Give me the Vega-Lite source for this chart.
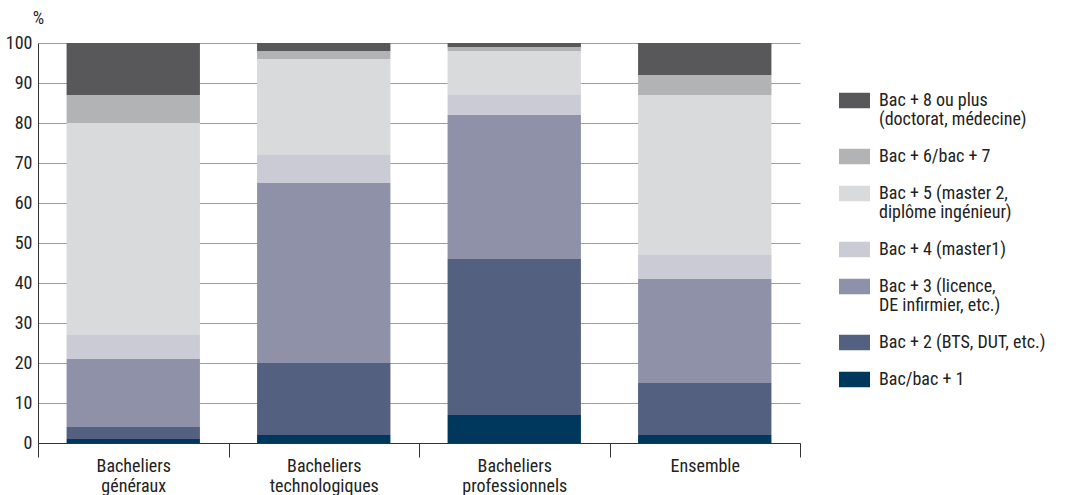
{
  "$schema": "https://vega.github.io/schema/vega-lite/v6.json",
  "width": 762,
  "height": 400,
  "autosize": {"type": "none"},
  "padding": {"left": 38, "top": 43, "right": 266, "bottom": 52},
  "config": {
    "font": "Liberation Sans Narrow, Roboto Condensed, DejaVu Sans Condensed, sans-serif",
    "view": {"stroke": null},
    "axis": {"labelColor": "#222", "labelFontSize": 18, "titleColor": "#222", "titleFontWeight": "normal", "titleFontSize": 18},
    "legend": {"labelColor": "#222", "labelFontSize": 18}
  },
  "data": {
    "values": [
      {"groupe": "Bacheliers généraux", "niveau": "Bac/bac + 1", "ordre": 1, "pct": 1},
      {"groupe": "Bacheliers généraux", "niveau": "Bac + 2 (BTS, DUT, etc.)", "ordre": 2, "pct": 3},
      {"groupe": "Bacheliers généraux", "niveau": "Bac + 3 (licence, DE infirmier, etc.)", "ordre": 3, "pct": 17},
      {"groupe": "Bacheliers généraux", "niveau": "Bac + 4 (master1)", "ordre": 4, "pct": 6},
      {"groupe": "Bacheliers généraux", "niveau": "Bac + 5 (master 2, diplôme ingénieur)", "ordre": 5, "pct": 53},
      {"groupe": "Bacheliers généraux", "niveau": "Bac + 6/bac + 7", "ordre": 6, "pct": 7},
      {"groupe": "Bacheliers généraux", "niveau": "Bac + 8 ou plus (doctorat, médecine)", "ordre": 7, "pct": 13},
      {"groupe": "Bacheliers technologiques", "niveau": "Bac/bac + 1", "ordre": 1, "pct": 2},
      {"groupe": "Bacheliers technologiques", "niveau": "Bac + 2 (BTS, DUT, etc.)", "ordre": 2, "pct": 18},
      {"groupe": "Bacheliers technologiques", "niveau": "Bac + 3 (licence, DE infirmier, etc.)", "ordre": 3, "pct": 45},
      {"groupe": "Bacheliers technologiques", "niveau": "Bac + 4 (master1)", "ordre": 4, "pct": 7},
      {"groupe": "Bacheliers technologiques", "niveau": "Bac + 5 (master 2, diplôme ingénieur)", "ordre": 5, "pct": 24},
      {"groupe": "Bacheliers technologiques", "niveau": "Bac + 6/bac + 7", "ordre": 6, "pct": 2},
      {"groupe": "Bacheliers technologiques", "niveau": "Bac + 8 ou plus (doctorat, médecine)", "ordre": 7, "pct": 2},
      {"groupe": "Bacheliers professionnels", "niveau": "Bac/bac + 1", "ordre": 1, "pct": 7},
      {"groupe": "Bacheliers professionnels", "niveau": "Bac + 2 (BTS, DUT, etc.)", "ordre": 2, "pct": 39},
      {"groupe": "Bacheliers professionnels", "niveau": "Bac + 3 (licence, DE infirmier, etc.)", "ordre": 3, "pct": 36},
      {"groupe": "Bacheliers professionnels", "niveau": "Bac + 4 (master1)", "ordre": 4, "pct": 5},
      {"groupe": "Bacheliers professionnels", "niveau": "Bac + 5 (master 2, diplôme ingénieur)", "ordre": 5, "pct": 11},
      {"groupe": "Bacheliers professionnels", "niveau": "Bac + 6/bac + 7", "ordre": 6, "pct": 1},
      {"groupe": "Bacheliers professionnels", "niveau": "Bac + 8 ou plus (doctorat, médecine)", "ordre": 7, "pct": 1},
      {"groupe": "Ensemble", "niveau": "Bac/bac + 1", "ordre": 1, "pct": 2},
      {"groupe": "Ensemble", "niveau": "Bac + 2 (BTS, DUT, etc.)", "ordre": 2, "pct": 13},
      {"groupe": "Ensemble", "niveau": "Bac + 3 (licence, DE infirmier, etc.)", "ordre": 3, "pct": 26},
      {"groupe": "Ensemble", "niveau": "Bac + 4 (master1)", "ordre": 4, "pct": 6},
      {"groupe": "Ensemble", "niveau": "Bac + 5 (master 2, diplôme ingénieur)", "ordre": 5, "pct": 40},
      {"groupe": "Ensemble", "niveau": "Bac + 6/bac + 7", "ordre": 6, "pct": 5},
      {"groupe": "Ensemble", "niveau": "Bac + 8 ou plus (doctorat, médecine)", "ordre": 7, "pct": 8}
    ]
  },
  "mark": {"type": "bar", "width": {"band": 0.7}},
  "encoding": {
    "x": {
      "field": "groupe", "type": "nominal",
      "sort": ["Bacheliers généraux", "Bacheliers technologiques", "Bacheliers professionnels", "Ensemble"],
      "scale": {"paddingInner": 0, "paddingOuter": 0},
      "axis": {
        "title": null, "labelAngle": 0, "tickBand": "extent",
        "tickSize": 14, "tickColor": "#333", "domainColor": "#333",
        "labelPadding": 0, "labelLineHeight": 20, "labelBaseline": "top",
        "labelExpr": "split(datum.label, ' ')"
      }
    },
    "y": {
      "field": "pct", "type": "quantitative", "stack": "zero",
      "scale": {"domain": [0, 100], "nice": false},
      "axis": {
        "title": "%", "titleAngle": 0, "titleAlign": "center", "titleX": 0, "titleY": -25, "titleBaseline": "middle",
        "values": [0, 10, 20, 30, 40, 50, 60, 70, 80, 90, 100], "labelOverlap": false,
        "ticks": false, "labelPadding": 6, "domainColor": "#333",
        "grid": true, "gridColor": "#9d9d9d", "gridWidth": 1
      }
    },
    "color": {
      "field": "niveau", "type": "nominal",
      "scale": {
        "domain": ["Bac + 8 ou plus (doctorat, médecine)", "Bac + 6/bac + 7", "Bac + 5 (master 2, diplôme ingénieur)", "Bac + 4 (master1)", "Bac + 3 (licence, DE infirmier, etc.)", "Bac + 2 (BTS, DUT, etc.)", "Bac/bac + 1"],
        "range": ["#58585a", "#b2b3b5", "#d9dadc", "#cbcbd5", "#8f91a8", "#536080", "#00375c"]
      },
      "legend": {
        "title": null, "orient": "none", "legendX": 801, "legendY": 42, "padding": 0,
        "symbolType": "M-1,-0.5H1V0.5H-1Z", "symbolSize": 961, "symbolStrokeWidth": 0, "symbolOpacity": 1,
        "labelOffset": 9, "labelLimit": 300, "rowPadding": 12,
        "labelExpr": "datum.label == 'Bac + 8 ou plus (doctorat, médecine)' ? ['Bac + 8 ou plus', '(doctorat, médecine)'] : datum.label == 'Bac + 5 (master 2, diplôme ingénieur)' ? ['Bac + 5 (master 2,', 'diplôme ingénieur)'] : datum.label == 'Bac + 3 (licence, DE infirmier, etc.)' ? ['Bac + 3 (licence,', 'DE infirmier, etc.)'] : datum.label",
        "encode": {"labels": {"update": {"lineHeight": {"value": 19}}}}
      }
    },
    "order": {"field": "ordre", "type": "quantitative"}
  }
}
